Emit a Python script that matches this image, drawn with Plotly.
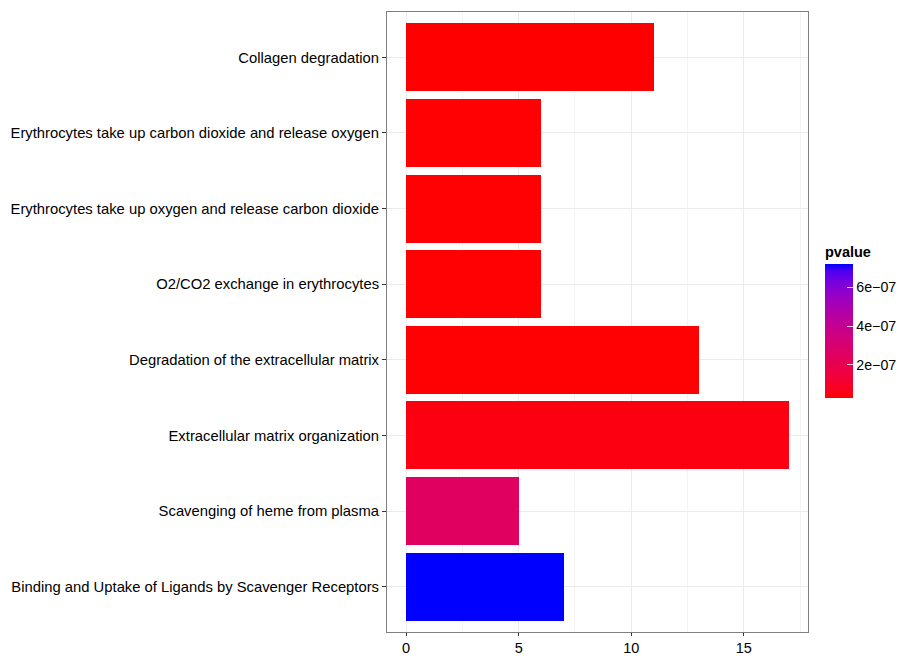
import numpy as np
import plotly.graph_objects as go

# Enriched pathways (bottom to top) with gene counts and p-values
pathways = [
    "Binding and Uptake of Ligands by Scavenger Receptors",
    "Scavenging of heme from plasma",
    "Extracellular matrix organization",
    "Degradation of the extracellular matrix",
    "O2/CO2 exchange in erythrocytes",
    "Erythrocytes take up oxygen and release carbon dioxide",
    "Erythrocytes take up carbon dioxide and release oxygen",
    "Collagen degradation",
]
counts = [7, 5, 17, 13, 6, 6, 6, 11]
pvalues = [7.2e-07, 2.5e-07, 5.0e-08, 3.0e-08, 3.0e-08, 3.0e-08, 3.0e-08, 2.6e-08]

x_ticks = [0, 5, 10, 15]
cbar_ticks = [2e-07, 4e-07, 6e-07]
cbar_labels = ["2e\u221207", "4e\u221207", "6e\u221207"]


# red -> blue gradient interpolated in CIE Lab space
def srgb_to_lab(rgb):
    c = np.array(rgb, dtype=float) / 255.0
    c = np.where(c > 0.04045, ((c + 0.055) / 1.055) ** 2.4, c / 12.92)
    m = np.array([[0.4124, 0.3576, 0.1805],
                  [0.2126, 0.7152, 0.0722],
                  [0.0193, 0.1192, 0.9505]])
    xyz = m @ c / np.array([0.95047, 1.0, 1.08883])
    f = np.where(xyz > 0.008856, np.cbrt(xyz), 7.787 * xyz + 16 / 116)
    return np.array([116 * f[1] - 16, 500 * (f[0] - f[1]), 200 * (f[1] - f[2])])


def lab_to_srgb(lab):
    L, a, b = lab
    fy = (L + 16) / 116
    fx = fy + a / 500
    fz = fy - b / 200
    f = np.array([fx, fy, fz])
    xyz = np.where(f ** 3 > 0.008856, f ** 3, (f - 16 / 116) / 7.787)
    xyz = xyz * np.array([0.95047, 1.0, 1.08883])
    minv = np.array([[3.2406, -1.5372, -0.4986],
                     [-0.9689, 1.8758, 0.0415],
                     [0.0557, -0.2040, 1.0570]])
    c = minv @ xyz
    c = np.where(c > 0.0031308, 1.055 * np.clip(c, 0, None) ** (1 / 2.4) - 0.055, 12.92 * c)
    c = np.clip(c, 0, 1) * 255
    return "rgb(%d,%d,%d)" % tuple(np.round(c).astype(int))


lab_lo = srgb_to_lab((255, 0, 0))
lab_hi = srgb_to_lab((0, 0, 255))
colorscale = [[t, lab_to_srgb(lab_lo + (lab_hi - lab_lo) * t)] for t in np.linspace(0, 1, 21)]

fig = go.Figure(
    go.Bar(
        x=counts,
        y=pathways,
        orientation="h",
        width=0.9,
        marker=dict(
            color=pvalues,
            coloraxis="coloraxis",
            line=dict(width=0),
        ),
        showlegend=False,
    )
)

font_family = "Liberation Sans, Arial, Helvetica, sans-serif"

fig.update_layout(
    template="none",
    width=900,
    height=656,
    margin=dict(l=387, r=92, t=12, b=24, autoexpand=False),
    paper_bgcolor="white",
    plot_bgcolor="white",
    font=dict(family=font_family, size=14.8, color="black"),
    bargap=0,
    coloraxis=dict(
        colorscale=colorscale,
        cmin=min(pvalues),
        cmax=max(pvalues),
        colorbar=dict(
            title=dict(text="<b>pvalue</b>", side="top",
                       font=dict(size=14.5, family=font_family, color="black")),
            tickvals=cbar_ticks,
            ticktext=cbar_labels,
            ticks="inside",
            ticklen=6,
            tickcolor="rgba(255,255,255,0.8)",
            tickfont=dict(size=14.2, family=font_family, color="black"),
            thickness=28,
            thicknessmode="pixels",
            len=155,
            lenmode="pixels",
            x=1.0404,
            xanchor="left",
            y=0.502,
            yanchor="middle",
            outlinewidth=0,
            xpad=0,
            ypad=0,
        ),
    ),
    xaxis=dict(
        automargin=False,
        range=[-0.85, 17.85],
        tickvals=x_ticks,
        ticks="outside",
        ticklen=3,
        tickcolor="#333333",
        tickfont=dict(size=14.5, color="black"),
        showgrid=True,
        gridcolor="#EBEBEB",
        gridwidth=1.2,
        minor=dict(dtick=2.5, tick0=0, showgrid=True, gridcolor="#F4F4F4", gridwidth=0.6),
        zeroline=False,
        showline=True,
        linecolor="#7F7F7F",
        linewidth=1,
        mirror=True,
    ),
    yaxis=dict(
        automargin=False,
        type="category",
        categoryorder="array",
        categoryarray=pathways,
        range=[-0.6, len(pathways) - 0.4],
        ticks="outside",
        ticklen=4,
        tickcolor="#333333",
        tickfont=dict(size=14.8, color="black"),
        showgrid=True,
        gridcolor="#EBEBEB",
        gridwidth=1.2,
        zeroline=False,
        showline=True,
        linecolor="#7F7F7F",
        linewidth=1,
        mirror=True,
    ),
)

fig.write_html("out.html")
